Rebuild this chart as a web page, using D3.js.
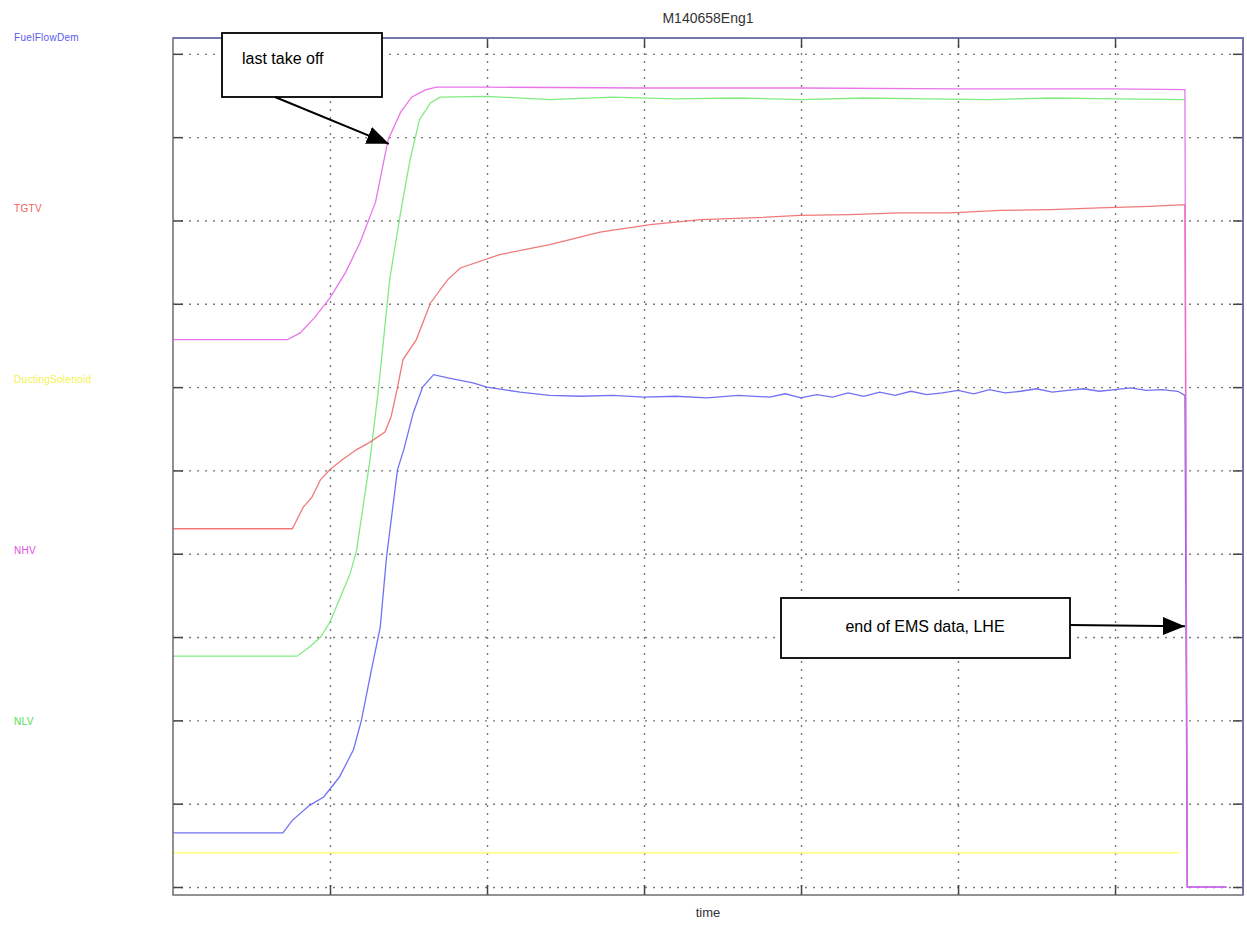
<!DOCTYPE html>
<html>
<head>
<meta charset="utf-8">
<script src="https://cdn.jsdelivr.net/npm/d3@7"></script>
<style>
  body { margin: 0; background: #fff; }
  text { font-family: "Liberation Sans", Arial, sans-serif; }
</style>
</head>
<body>
<div id="app"></div>
<script>
const WIDTH = 1247
const HEIGHT = 945

// plot frame
const LEFT = 173, RIGHT = 1243, TOP = 38, BOTTOM = 895

const TITLE = 'M140658Eng1'
const X_LABEL = 'time'

const xTicks = [10, 20, 30, 40, 50, 60]
const yTicks = [0, 10, 20, 30, 40, 50, 60, 70, 80, 90, 100]

const seriesNames = ['FuelFlowDem', 'TGTV', 'DuctingSolenoid', 'NHV', 'NLV']
const seriesColors = ['#6262f2', '#f06a6a', '#ffff88', '#e866e8', '#74e874']
const labelColors = ['#5a5af0', '#f06060', '#f2f24a', '#e050e0', '#52e052']

// FuelFlowDem (blue)
const fuelT = [0, 7.0, 7.6, 8.7, 9.6, 10.6, 11.5, 12.0, 12.6, 13.2, 13.6, 14.0, 14.3, 14.7, 15.3, 15.9, 16.6, 17.5, 19.1,
  20.0, 22.1, 24.0, 26.0, 28.0, 30.0, 32.0, 34.0, 36.0, 38.0, 39.0, 40.0, 41.0, 42.0, 43.0, 44.0, 45.0, 46.0, 47.0, 48.0,
  49.0, 50.0, 51.0, 52.0, 53.0, 54.0, 55.0, 56.0, 57.0, 58.0, 59.0, 60.0, 61.0, 62.0, 63.0, 64.0, 64.45, 64.6, 67.1]
const fuelV = [6.5, 6.5, 8.0, 9.8, 10.8, 13.2, 16.5, 20.0, 25.7, 31.2, 39.6, 45.6, 50.1, 52.5, 56.9, 60.0, 61.5, 61.1, 60.5,
  60.0, 59.4, 59.0, 58.9, 59.0, 58.8, 58.9, 58.7, 59.0, 58.8, 59.2, 58.7, 59.1, 58.8, 59.3, 58.9, 59.4, 59.0, 59.5, 59.1,
  59.3, 59.6, 59.2, 59.7, 59.3, 59.5, 59.8, 59.4, 59.6, 59.8, 59.5, 59.7, 59.9, 59.6, 59.7, 59.5, 59.0, 0, 0]

// TGTV (red)
const tgtT = [0, 7.6, 8.3, 8.85, 9.4, 10.0, 10.8, 11.7, 12.55, 13.5, 13.9, 14.3, 14.65, 15.5, 16.4, 17.5, 18.3, 20.8,
  24.0, 27.2, 30.4, 33.6, 36.8, 39.9, 43.1, 46.3, 49.5, 52.7, 55.9, 59.0, 62.2, 64.45, 64.6]
const tgtV = [43.0, 43.0, 45.6, 46.8, 48.9, 50.1, 51.3, 52.5, 53.4, 54.6, 56.5, 60.0, 63.3, 65.7, 70.1, 72.9, 74.3, 75.9,
  77.1, 78.6, 79.5, 80.1, 80.3, 80.6, 80.7, 80.9, 80.9, 81.2, 81.3, 81.5, 81.7, 81.9, 0]

// DuctingSolenoid (yellow)
const ductT = [0, 64.1]
const ductV = [4.1, 4.1]

// NHV (magenta)
const nhvT = [0, 7.3, 8.1, 9.0, 10.0, 11.0, 11.9, 12.9, 13.7, 14.5, 15.2, 16.1, 16.8, 20.0, 30.0, 40.0, 50.0, 60.0, 64.45, 64.6, 67.1]
const nhvV = [65.7, 65.7, 66.5, 68.3, 70.7, 73.8, 77.3, 82.2, 89.7, 93.0, 94.8, 95.7, 96.0, 96.0, 95.9, 95.9, 95.8, 95.8, 95.7, 0, 0]

// NLV (green)
const nlvT = [0, 7.9, 8.7, 9.4, 10.0, 10.6, 11.3, 11.7, 12.1, 12.55, 13.1, 13.8, 14.5, 15.1, 15.7, 16.4, 17.0, 20.0,
  24.0, 28.0, 32.0, 36.0, 40.0, 44.0, 48.0, 52.0, 56.0, 60.0, 64.45]
const nlvV = [27.7, 27.7, 28.8, 30.0, 31.8, 34.5, 37.7, 40.5, 45.6, 51.3, 60.0, 72.9, 81.0, 87.3, 92.1, 94.1, 94.8, 94.9,
  94.5, 94.8, 94.6, 94.7, 94.5, 94.7, 94.6, 94.5, 94.7, 94.6, 94.5]

const seriesT = [fuelT, tgtT, ductT, nhvT, nlvT]
const seriesV = [fuelV, tgtV, ductV, nhvV, nlvV]

const x = d3.scaleLinear().domain([0, 68.15]).range([LEFT, RIGHT])
const y = d3.scaleLinear().domain([-0.96, 101.9]).range([BOTTOM, TOP])

const svg = d3.select('#app').append('svg')
  .attr('width', WIDTH)
  .attr('height', HEIGHT)

const defs = svg.append('defs')
defs.append('marker')
  .attr('id', 'head')
  .attr('markerUnits', 'userSpaceOnUse')
  .attr('viewBox', '0 0 22 18')
  .attr('refX', 22).attr('refY', 9)
  .attr('markerWidth', 22).attr('markerHeight', 18)
  .attr('orient', 'auto')
.append('path')
  .attr('d', 'M0,0 L22,9 L0,18 Z')
  .attr('fill', '#000')

// dotted grid
const grid = svg.append('g').attr('class', 'grid')
grid.append('g')
  .attr('transform', `translate(0, ${BOTTOM})`)
  .call(d3.axisBottom(x).tickValues(xTicks).tickSize(-(BOTTOM - TOP)).tickFormat(''))
grid.append('g')
  .attr('transform', `translate(${LEFT}, 0)`)
  .call(d3.axisLeft(y).tickValues(yTicks).tickSize(-(RIGHT - LEFT)).tickFormat(''))
grid.selectAll('.domain').remove()
grid.selectAll('line')
  .attr('stroke', '#7a7a7a')
  .attr('stroke-width', 1.4)
  .attr('stroke-dasharray', '2,6')

// inner tick marks on all four sides
const tickLen = 10
const ticks = svg.append('g').attr('class', 'ticks')
ticks.append('g').attr('transform', `translate(0, ${BOTTOM})`)
  .call(d3.axisBottom(x).tickValues(xTicks).tickSize(-tickLen).tickFormat(''))
ticks.append('g').attr('transform', `translate(0, ${TOP})`)
  .call(d3.axisTop(x).tickValues(xTicks).tickSize(-tickLen).tickFormat(''))
ticks.append('g').attr('transform', `translate(${LEFT}, 0)`)
  .call(d3.axisLeft(y).tickValues(yTicks).tickSize(-tickLen).tickFormat(''))
ticks.append('g').attr('transform', `translate(${RIGHT}, 0)`)
  .call(d3.axisRight(y).tickValues(yTicks).tickSize(-tickLen).tickFormat(''))
ticks.selectAll('.domain').remove()
ticks.selectAll('line').attr('stroke', '#444').attr('stroke-width', 1.5)

// series
const line = d3.line().x(d => x(d[0])).y(d => y(d[1]))
const order = [2, 4, 1, 0, 3]
svg.append('g').attr('class', 'series')
.selectAll('path')
  .data(order)
  .enter()
.append('path')
  .attr('d', i => line(seriesT[i].map((t, k) => [t, seriesV[i][k]])))
  .attr('fill', 'none')
  .attr('stroke', i => seriesColors[i])
  .attr('stroke-width', i => i === 2 ? 2 : 1.3)
  .attr('stroke-opacity', 0.9)

// frame
svg.append('rect')
  .attr('x', LEFT).attr('y', TOP)
  .attr('width', RIGHT - LEFT).attr('height', BOTTOM - TOP)
  .attr('fill', 'none')
  .attr('stroke', '#6e6e6e')
  .attr('stroke-width', 1.5)
svg.append('path')
  .attr('d', `M${LEFT},${TOP} H${RIGHT} V${BOTTOM}`)
  .attr('fill', 'none')
  .attr('stroke', '#6c6cb8')
  .attr('stroke-width', 1.5)

// series labels on the left
svg.append('g')
.selectAll('text')
  .data(seriesNames)
  .enter()
.append('text')
  .attr('x', 14)
  .attr('y', (d, i) => 41 + i * 171)
  .attr('font-size', 10)
  .attr('letter-spacing', 0.3)
  .attr('fill', (d, i) => labelColors[i])
  .text(d => d)

svg.append('text')
  .attr('x', 708).attr('y', 23)
  .attr('text-anchor', 'middle')
  .attr('font-size', 14)
  .attr('fill', '#333')
  .text(TITLE)

svg.append('text')
  .attr('x', 708).attr('y', 917)
  .attr('text-anchor', 'middle')
  .attr('font-size', 13)
  .attr('fill', '#333')
  .text(X_LABEL)

// annotations
const notes = [
  { text: 'last take off', box: [222, 33, 160, 64], tx: 242, ty: 64, from: [275, 97], to: [x(13.75), y(89.2)] },
  { text: 'end of EMS data, LHE', box: [781, 598, 289, 60], tx: 925, ty: 632, anchor: 'middle', from: [1070, 625], to: [x(64.45), y(31.3)] }
]
const ann = svg.append('g').attr('class', 'notes')
ann.selectAll('rect')
  .data(notes).enter()
.append('rect')
  .attr('x', d => d.box[0]).attr('y', d => d.box[1])
  .attr('width', d => d.box[2]).attr('height', d => d.box[3])
  .attr('fill', '#fff')
  .attr('stroke', '#000')
  .attr('stroke-width', 1.8)
ann.selectAll('text')
  .data(notes).enter()
.append('text')
  .attr('x', d => d.tx).attr('y', d => d.ty)
  .attr('text-anchor', d => d.anchor || 'start')
  .attr('font-size', 16)
  .attr('fill', '#000')
  .text(d => d.text)
ann.selectAll('line')
  .data(notes).enter()
.append('line')
  .attr('x1', d => d.from[0]).attr('y1', d => d.from[1])
  .attr('x2', d => d.to[0]).attr('y2', d => d.to[1])
  .attr('stroke', '#000')
  .attr('stroke-width', 2)
  .attr('marker-end', 'url(#head)')
</script>
</body>
</html>
